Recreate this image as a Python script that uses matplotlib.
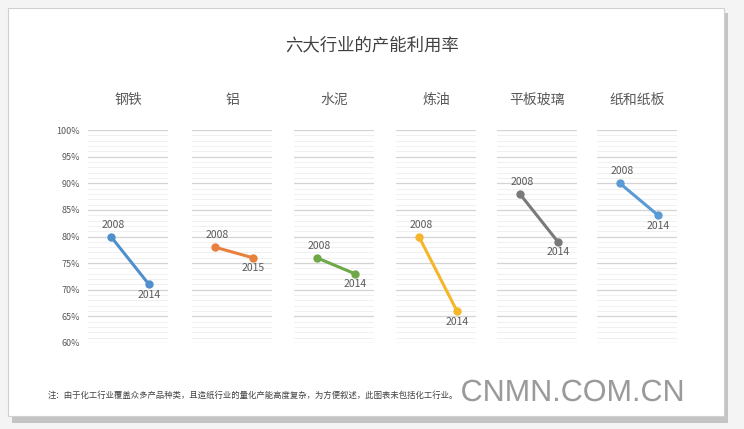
import matplotlib.pyplot as plt
from matplotlib.patches import Rectangle
import matplotlib.patheffects as pe

plt.rcParams['font.family'] = ['Noto Sans CJK SC', 'DejaVu Sans']

# data
industries = ['钢铁', '铝', '水泥', '炼油', '平板玻璃', '纸和纸板']
start_year = ['2008', '2008', '2008', '2008', '2008', '2008']
end_year = ['2014', '2015', '2014', '2014', '2014', '2014']
start_val = [80, 78, 76, 80, 88, 90]
end_val = [71, 76, 73, 66, 79, 84]
colors = ['#4f8fcb', '#e8803e', '#6fa848', '#f5b62a', '#7a7a7a', '#5b9bd5']
yticks = [60, 65, 70, 75, 80, 85, 90, 95, 100]

W, H = 744, 429
fig = plt.figure(figsize=(W / 100, H / 100), dpi=100)
fig.patch.set_facecolor('#f4f4f4')

# card with a soft shadow
fig.patches.append(Rectangle((12 / W, 1 - 423 / H), 716 / W, 410 / H,
                             transform=fig.transFigure, facecolor='#c4c4c4',
                             edgecolor='none', zorder=-2))
fig.patches.append(Rectangle((8 / W, 1 - 416 / H), 716 / W, 408 / H,
                             transform=fig.transFigure, facecolor='white',
                             edgecolor='#d0d0d0', lw=0.8, zorder=-1))

fig.text(372 / W, 1 - 45 / H, '六大行业的产能利用率', ha='center', va='center',
         fontsize=12.5, color='#404040', fontweight='medium')

lefts = [88, 192, 294, 396, 497, 597]
pw = 80
y_top, y_bot = 130, 343

for i, name in enumerate(industries):
    ax = fig.add_axes([lefts[i] / W, 1 - y_bot / H, pw / W, (y_bot - y_top) / H])
    ax.set_zorder(2)
    ax.set_facecolor('none')
    ax.set_xlim(-0.6, 1.5)
    ax.set_ylim(60, 100)
    for v in range(60, 101):
        if v % 5 == 0:
            ax.axhline(v, color='#d4d4d4', lw=0.9, zorder=0)
        else:
            ax.axhline(v, color='#eeeeee', lw=0.6, zorder=0)
    ax.plot([0, 1], [start_val[i], end_val[i]], color=colors[i], lw=2.2,
            marker='o', ms=5, zorder=3, clip_on=False)
    ax.annotate(start_year[i], (0, start_val[i]), xytext=(2, 5),
                textcoords='offset points', ha='center', va='bottom',
                fontsize=7.5, color='#595959')
    ax.annotate(end_year[i], (1, end_val[i]), xytext=(0, -4),
                textcoords='offset points', ha='center', va='top',
                fontsize=7.5, color='#595959')
    for s in ax.spines.values():
        s.set_visible(False)
    ax.set_xticks([])
    if i == 0:
        ax.set_yticks(yticks)
        ax.set_yticklabels([f'{v}%' for v in yticks], fontsize=6.5, color='#595959')
        ax.tick_params(axis='y', length=0, pad=6)
    else:
        ax.set_yticks([])
    fig.text((lefts[i] + pw / 2) / W, 1 - 100 / H, name, ha='center', va='center',
             fontsize=10, color='#595959')

fig.text(48 / W, 1 - 395 / H,
         '注：由于化工行业覆盖众多产品种类，且造纸行业的量化产能高度复杂，为方便叙述，此图表未包括化工行业。',
         ha='left', va='center', fontsize=6, color='#404040')

fig.text(572 / W, 1 - 393 / H, 'CNMN.COM.CN', ha='center', va='center',
         fontsize=22, color='#9a9a9a', family='Liberation Sans', zorder=5,
         path_effects=[pe.withStroke(linewidth=2, foreground='white')])

fig.savefig('out.png', dpi=100)
